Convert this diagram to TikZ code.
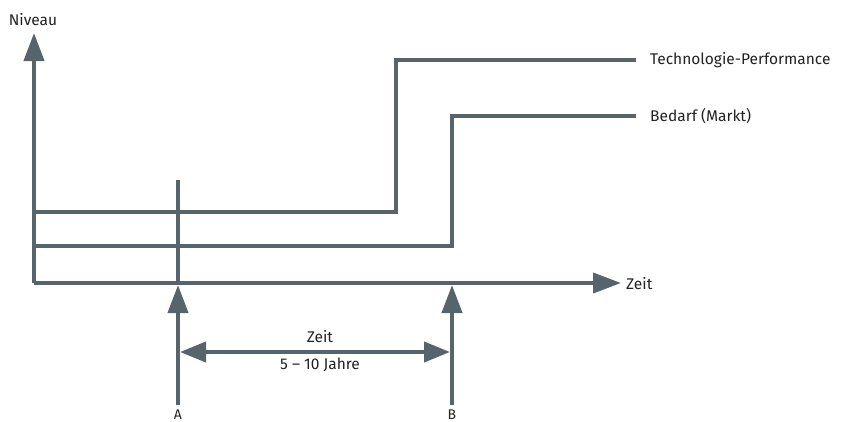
\documentclass[tikz,border=0pt]{standalone}
\usepackage{fontspec}
\setmainfont{Fira Sans}
\usetikzlibrary{arrows.meta}
\definecolor{slate}{HTML}{56646C}
\definecolor{ink}{HTML}{222222}
\tikzset{
  x=1pt, y=-1pt,
  curve/.style={draw=slate, line width=4pt},
  axis/.style={curve, -{Triangle[length=28pt,width=20pt]}},
  span/.style={curve, {Triangle[length=26pt,width=20pt]}-{Triangle[length=26pt,width=20pt]}},
  lbl/.style={font=\fontsize{15.5}{18}\selectfont, text=ink, inner sep=0pt}
}
\begin{document}
\begin{tikzpicture}
\useasboundingbox (0,0) rectangle (844,421);
% axes
\coordinate (o) at (34,283);
\coordinate (ytop) at (34,33);
\coordinate (xend) at (621,283);
\node[lbl, anchor=base] (niveau) at (33,25) {Niveau};
\node[lbl, anchor=west] (zeitx) at (626,284) {Zeit};
% curve end points
\coordinate (t0) at (34,212);
\coordinate (t1) at (396,212);
\coordinate (t2) at (396,60);
\coordinate (t3) at (636,60);
\coordinate (d0) at (34,246);
\coordinate (d1) at (452,246);
\coordinate (d2) at (452,116);
\coordinate (d3) at (636,116);
\node[lbl, anchor=west] (tech) at (650,60) {Technologie-Performance};
\node[lbl, anchor=west] (bedarf) at (650,116) {Bedarf (Markt)};
% time markers
\coordinate (atop) at (178,180);
\coordinate (aaxis) at (178,283);
\coordinate (abot) at (178,405);
\coordinate (atip) at (178,285);
\coordinate (btip) at (452,285);
\coordinate (bbot) at (452,405);
\node[lbl, anchor=base, font=\fontsize{14}{16}\selectfont] (A) at (178,419) {A};
\node[lbl, anchor=base, font=\fontsize{14}{16}\selectfont] (B) at (452,419) {B};
\coordinate (sl) at (180,352);
\coordinate (sr) at (450,352);
\node[lbl, anchor=base] (zeit) at (320,342) {Zeit};
\node[lbl, anchor=base] (jahre) at (320,369) {5 -- 10 Jahre};
% drawing
\draw[curve] (t0) -- (t1) -- (t2) -- (t3);
\draw[curve] (d0) -- (d1) -- (d2) -- (d3);
\draw[curve] (atop) -- (aaxis);
\draw[axis] (o) -- (ytop);
\draw[axis] (o) -- (xend);
\draw[axis] (abot) -- (atip);
\draw[axis] (bbot) -- (btip);
\draw[span] (sl) -- (sr);
\end{tikzpicture}
\end{document}
